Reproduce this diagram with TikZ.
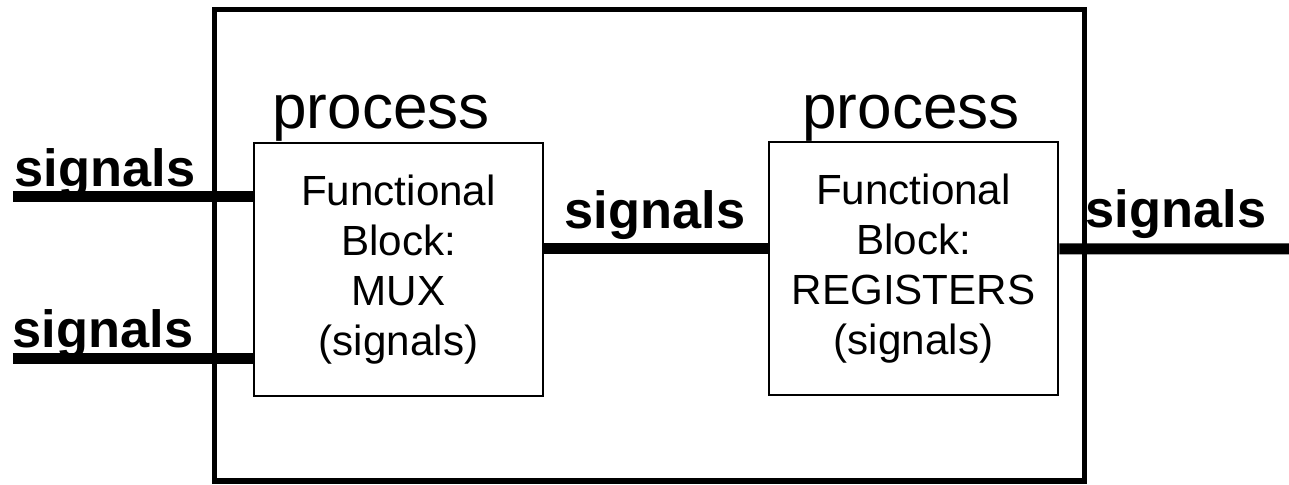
\documentclass[tikz,border=0pt]{standalone}
\usepackage{fontspec}
\setmainfont{Liberation Sans}
\usetikzlibrary{positioning}

\begin{document}
\begin{tikzpicture}[line join=miter,
    block/.style={draw, line width=0.05cm, minimum width=5.78cm, minimum height=5.06cm,
                  inner sep=0pt, align=center, font=\fontsize{24}{28.5}\selectfont},
    bus/.style={line width=0.22cm},
    siglabel/.style={anchor=base, font=\fontsize{29.8}{30}\selectfont\bfseries},
    proclabel/.style={anchor=base, font=\fontsize{35.3}{36}\selectfont}]
  \useasboundingbox (0,0) rectangle (25.78,9.70);

  % entity boundary
  \draw[line width=0.1cm] (4.28,0.08) rectangle (21.68,9.51);

  % the two processes
  \node[block] (mux) at (7.97,4.31) {Functional\\Block:\\MUX\\(signals)};
  \node[block] (reg) at (18.27,4.33) {Functional\\Block:\\REGISTERS\\(signals)};
  \node[proclabel] (pmux) at (7.62,7.12) {process};
  \node[proclabel] (preg) at (18.22,7.12) {process};

  % signal buses
  \coordinate (in1) at (0.26,5.76);
  \coordinate (in2) at (0.26,2.52);
  \coordinate (out) at (25.78,4.72);
  \draw[bus] (in1) -- (in1 -| mux.west);
  \draw[bus] (in2) -- (in2 -| mux.west);
  \draw[bus] ([yshift=0.41cm]mux.east) -- ([yshift=0.39cm]reg.west);
  \draw[bus] ([yshift=0.39cm]reg.east) -- (out);

  \node[siglabel] (sin1) at (2.1,5.96) {signals};
  \node[siglabel] (sin2) at (2.06,2.74) {signals};
  \node[siglabel] (smid) at (13.1,5.12) {signals};
  \node[siglabel] (sout) at (23.52,5.14) {signals};
\end{tikzpicture}
\end{document}
